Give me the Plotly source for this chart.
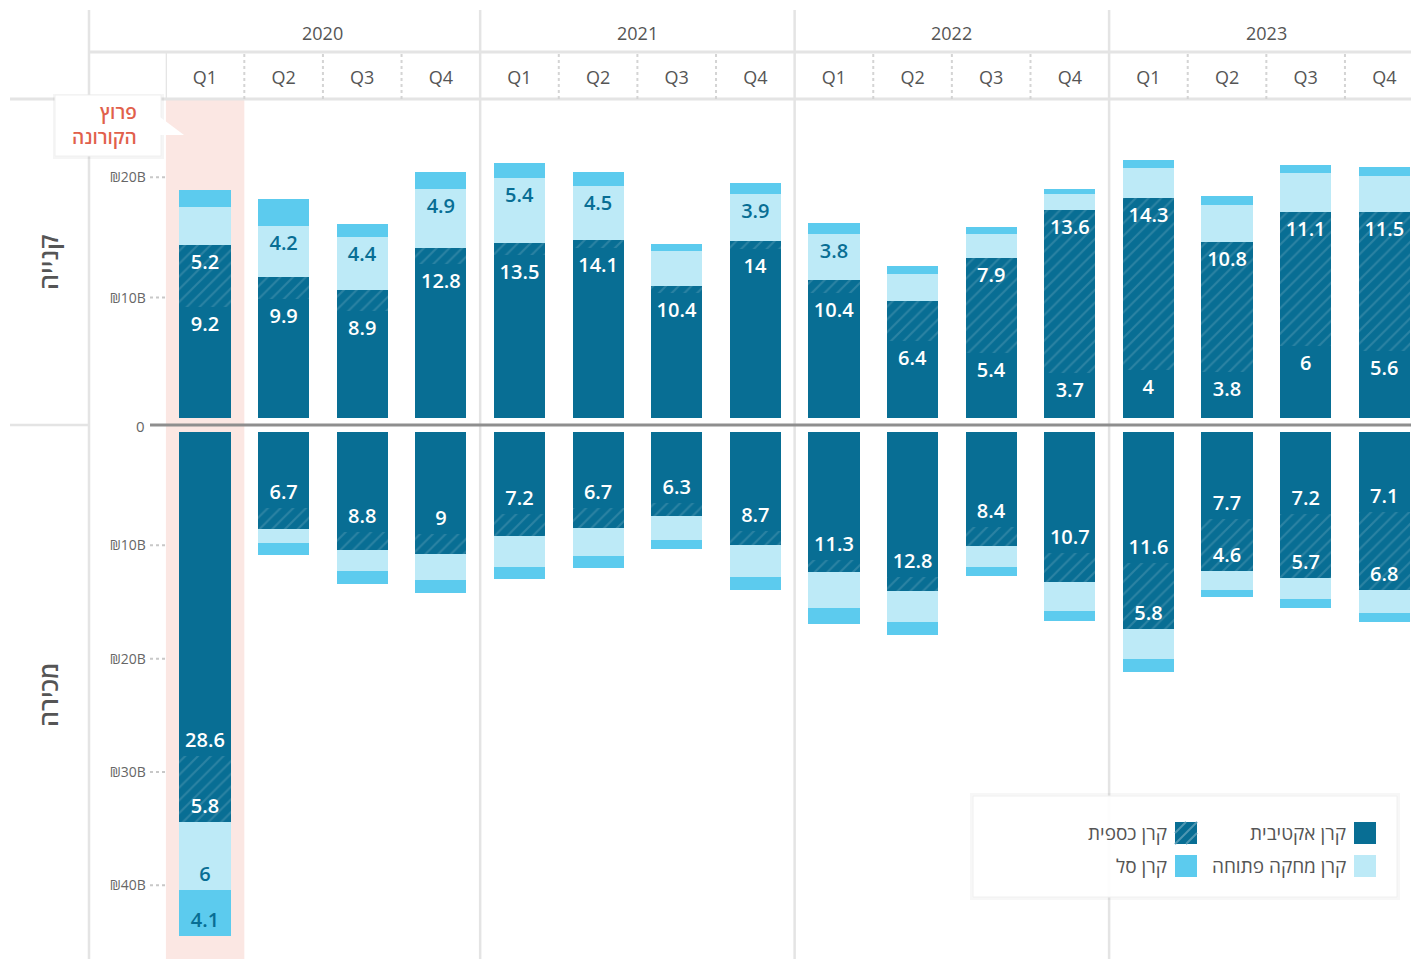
import plotly.graph_objects as go

# ---- data (₪ billions) ----
years = ['2020', '2021', '2022', '2023']
quarter_names = ['Q1', 'Q2', 'Q3', 'Q4']
categories = [f'{y} {q}' for y in years for q in quarter_names]
quarter_labels = [q for y in years for q in quarter_names]

# קנייה (buy)
buy_active = [9.2, 9.9, 8.9, 12.8, 13.5, 14.1, 10.4, 14.0, 10.4, 6.4, 5.4, 3.7, 4.0, 3.8, 6.0, 5.6]
buy_money = [5.2, 1.85, 1.7, 1.35, 1.0, 0.67, 0.6, 0.7, 1.1, 3.35, 7.9, 13.6, 14.3, 10.8, 11.1, 11.5]
buy_tracking = [3.1, 4.2, 4.4, 4.9, 5.4, 4.5, 2.9, 3.9, 3.8, 2.2, 2.0, 1.3, 2.5, 3.1, 3.25, 3.0]
buy_etf = [1.4, 2.25, 1.1, 1.4, 1.25, 1.15, 0.55, 0.9, 0.9, 0.67, 0.6, 0.4, 0.6, 0.75, 0.67, 0.75]

# מכירה (sell)
sell_active = [28.6, 6.7, 8.8, 9.0, 7.2, 6.7, 6.3, 8.7, 11.3, 12.8, 8.4, 10.7, 11.6, 7.7, 7.2, 7.1]
sell_money = [5.8, 1.85, 1.6, 1.8, 2.0, 1.8, 1.1, 1.3, 1.05, 1.2, 1.7, 2.55, 5.8, 4.6, 5.7, 6.8]
sell_tracking = [6.0, 1.25, 1.85, 2.3, 2.7, 2.4, 2.1, 2.8, 3.2, 2.8, 1.85, 2.5, 2.65, 1.6, 1.85, 2.1]
sell_etf = [4.1, 1.05, 1.2, 1.1, 1.05, 1.1, 0.85, 1.1, 1.4, 1.1, 0.75, 0.9, 1.15, 0.7, 0.8, 0.8]

buy_ticks = [10, 20]
sell_ticks = [10, 20, 30, 40]

# ---- styling ----
W, H = 1411, 959
FONT = 'Open Sans, DejaVu Sans, Liberation Sans, sans-serif'
DARK = '#086e94'
STRIPE = '#4f97b2'
LIGHT = '#bdeaf7'
ETF = '#5ccbee'
GRID = '#e4e4e4'
GRAY_TXT = '#555555'


def px(x):
    return x / W


def py(y):
    return 1 - y / H


def labels(vals):
    return [f'{v:g}' if v >= 3.5 else '' for v in vals]


series = [
    ('קרן אקטיבית', dict(color=DARK), 'white', buy_active, sell_active),
    ('קרן כספית', dict(color=DARK, pattern=dict(shape='/', bgcolor=DARK, fgcolor=STRIPE,
                                                 size=9, solidity=0.22)), 'white', buy_money, sell_money),
    ('קרן מחקה פתוחה', dict(color=LIGHT), DARK, buy_tracking, sell_tracking),
    ('קרן סל', dict(color=ETF), DARK, buy_etf, sell_etf),
]

fig = go.Figure()
for name, marker, tcol, buy, sell in series:
    for vals, xa, ya in ((buy, 'x', 'y'), (sell, 'x2', 'y2')):
        fig.add_trace(go.Bar(
            x=categories, y=vals, name=name, xaxis=xa, yaxis=ya,
            marker=dict(line=dict(width=0), **marker),
            text=labels(vals), textposition='inside', insidetextanchor='end',
            textangle=0, constraintext='none',
            insidetextfont=dict(family=FONT, size=20, color=tcol, weight=600),
            hovertemplate='%{x}: %{y}B<extra>' + name + '</extra>',
        ))

x_dom = [px(165.7), 1]
x_range = [-0.5, 15.34]

fig.update_layout(
    width=W, height=H,
    margin=dict(l=0, r=0, t=0, b=0),
    barmode='stack', bargap=0.35,
    showlegend=False,
    paper_bgcolor='white', plot_bgcolor='rgba(0,0,0,0)',
    font=dict(family=FONT, color=GRAY_TXT),
    xaxis=dict(domain=x_dom, range=x_range, anchor='y', side='top',
               tickvals=categories, ticktext=quarter_labels, ticks='',
               ticklabelstandoff=10, tickfont=dict(size=18, color=GRAY_TXT),
               showgrid=False, zeroline=False, showline=False),
    xaxis2=dict(domain=x_dom, range=x_range, anchor='y2', matches='x',
                showticklabels=False, showgrid=False, zeroline=False, showline=False),
    yaxis=dict(domain=[py(418), py(99)], range=[0, 26.5], anchor='x',
               tickvals=buy_ticks, ticktext=[f'₪{t}B' for t in buy_ticks],
               ticks='', ticklabelstandoff=19, tickfont=dict(size=14, color='#666'),
               showgrid=False, zeroline=False, showline=False),
    yaxis2=dict(domain=[0, py(432)], range=[46.5, 0], anchor='x2',
                tickvals=sell_ticks, ticktext=[f'₪{t}B' for t in sell_ticks],
                ticks='', ticklabelstandoff=19, tickfont=dict(size=14, color='#666'),
                showgrid=False, zeroline=False, showline=False),
)

shapes = []
# corona highlight column
shapes.append(dict(type='rect', xref='x', yref='paper', x0=-0.5, x1=0.5, y0=0, y1=py(99),
                   fillcolor='#fbe7e3', line=dict(width=0), layer='below'))
# frame lines
shapes.append(dict(type='line', xref='paper', yref='paper', x0=px(89), x1=px(89), y0=0, y1=py(10),
                   line=dict(color=GRID, width=2.5), layer='below'))
for xb in (3.5, 7.5, 11.5):
    shapes.append(dict(type='line', xref='x', yref='paper', x0=xb, x1=xb, y0=0, y1=py(10),
                       line=dict(color=GRID, width=2.5), layer='below'))
shapes.append(dict(type='line', xref='paper', yref='paper', x0=px(89), x1=1, y0=py(52), y1=py(52),
                   line=dict(color=GRID, width=3), layer='below'))
shapes.append(dict(type='line', xref='paper', yref='paper', x0=px(10), x1=1, y0=py(99), y1=py(99),
                   line=dict(color=GRID, width=3), layer='below'))
shapes.append(dict(type='line', xref='x', yref='paper', x0=-0.5, x1=-0.5, y0=py(99), y1=py(52),
                   line=dict(color=GRID, width=2.5), layer='below'))
for i in range(len(categories) - 1):
    if (i + 1) % 4:
        shapes.append(dict(type='line', xref='x', yref='paper', x0=i + 0.5, x1=i + 0.5,
                           y0=py(99), y1=py(52), line=dict(color='#d4d4d4', width=2, dash='dot'),
                           layer='below'))
# zero line
shapes.append(dict(type='line', xref='paper', yref='paper', x0=px(10), x1=px(89), y0=py(425), y1=py(425),
                   line=dict(color=GRID, width=2.5)))
shapes.append(dict(type='line', xref='paper', yref='paper', x0=px(150), x1=1, y0=py(425), y1=py(425),
                   line=dict(color='#8e8e8e', width=3)))
# dotted tick leaders
for t in buy_ticks:
    shapes.append(dict(type='line', xref='paper', yref='y', x0=px(150), x1=px(165), y0=t, y1=t,
                       line=dict(color='#c8c8c8', width=2, dash='dot')))
for t in sell_ticks:
    shapes.append(dict(type='line', xref='paper', yref='y2', x0=px(150), x1=px(165), y0=t, y1=t,
                       line=dict(color='#c8c8c8', width=2, dash='dot')))
# callout box
shapes.append(dict(type='rect', xref='paper', yref='paper', x0=px(53), x1=px(164), y0=py(159), y1=py(94),
                   fillcolor='rgba(0,0,0,0.04)', line=dict(width=0)))
shapes.append(dict(type='rect', xref='paper', yref='paper', x0=px(55), x1=px(161), y0=py(156), y1=py(95),
                   fillcolor='white', line=dict(color='#f0f0f0', width=1)))
shapes.append(dict(type='path', xref='paper', yref='paper',
                   path=f'M {px(160)},{py(117)} L {px(184)},{py(135)} L {px(160)},{py(135)} Z',
                   fillcolor='white', line=dict(width=0)))
# legend box
shapes.append(dict(type='rect', xref='paper', yref='paper', x0=px(970), x1=px(1400), y0=py(900), y1=py(793),
                   fillcolor='rgba(0,0,0,0.03)', line=dict(width=0)))
shapes.append(dict(type='rect', xref='paper', yref='paper', x0=px(973), x1=px(1397), y0=py(897), y1=py(796),
                   fillcolor='rgba(255,255,255,0.92)', line=dict(color='#f0f0f0', width=1)))

annotations = []
# legend entries (swatch to the right of the text, RTL)
legend_items = [
    (series[0][0], 1354, 822, DARK, False),
    (series[2][0], 1354, 855, LIGHT, False),
    (series[1][0], 1175, 822, DARK, True),
    (series[3][0], 1175, 855, ETF, False),
]
for name, sx, sy, col, hatch in legend_items:
    s = 22
    shapes.append(dict(type='rect', xref='paper', yref='paper', x0=px(sx), x1=px(sx + s),
                       y0=py(sy + s), y1=py(sy), fillcolor=col, line=dict(width=0)))
    if hatch:
        for (a, b, c, d) in ((sx, sy + s, sx + s, sy), (sx, sy + s / 2, sx + s / 2, sy),
                             (sx + s / 2, sy + s, sx + s, sy + s / 2)):
            shapes.append(dict(type='line', xref='paper', yref='paper', x0=px(a), y0=py(b),
                               x1=px(c), y1=py(d), line=dict(color=STRIPE, width=2)))
    annotations.append(dict(xref='paper', yref='paper', x=px(sx - 6), y=py(sy + s / 2),
                            xanchor='right', yanchor='middle', text=name, showarrow=False,
                            font=dict(size=19, color=GRAY_TXT)))

# year headers
for i, yr in enumerate(years):
    annotations.append(dict(xref='x', yref='paper', x=i * 4 + 1.5, y=py(33), text=yr,
                            xanchor='center', yanchor='middle',
                            showarrow=False, font=dict(size=18, color=GRAY_TXT)))
# section titles
annotations.append(dict(xref='paper', yref='paper', x=px(48), y=py(262), text='קנייה', textangle=-90,
                        xanchor='center', yanchor='middle',
                        showarrow=False, font=dict(size=25, color=GRAY_TXT, weight=600)))
annotations.append(dict(xref='paper', yref='paper', x=px(48), y=py(695), text='מכירה', textangle=-90,
                        xanchor='center', yanchor='middle',
                        showarrow=False, font=dict(size=25, color=GRAY_TXT, weight=600)))
# zero label
annotations.append(dict(xref='paper', yref='paper', x=px(147), y=py(426), xanchor='right',
                        yanchor='middle', text='0',
                        showarrow=False, font=dict(size=15, color='#666')))
# corona callout
annotations.append(dict(xref='paper', yref='paper', x=px(139), y=py(125), xanchor='right',
                        yanchor='middle', text='פרוץ<br>הקורונה', align='right', showarrow=False,
                        font=dict(size=19, color='#e1604b', weight=600)))

fig.update_layout(shapes=shapes, annotations=annotations)

fig.write_html('out.html', config={'displayModeBar': False},
               post_script="document.body.style.margin='0';")
